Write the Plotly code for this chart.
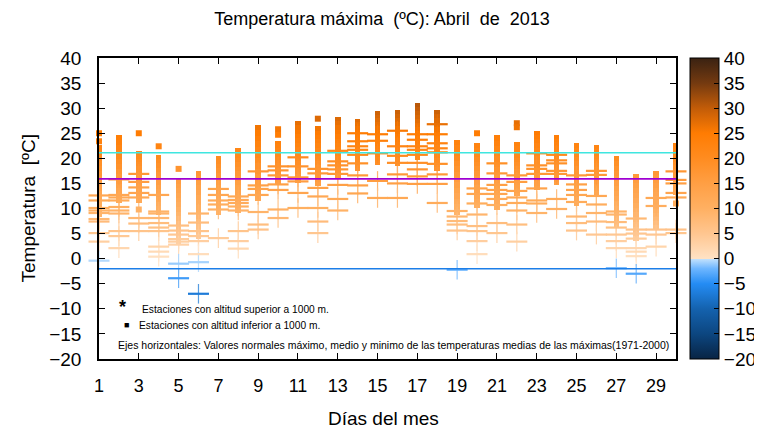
import numpy as np
import plotly.graph_objects as go

# ---------------- data ----------------
days = list(range(1, 31))

# dense column of stations below 1000 m (top / bottom of the stacked squares)
col_top = [22.6, 24.6, 21.4, 20.7, 15.9, 17.5, 20.5, 22.0, 26.7, 23.4,
           27.5, 26.4, 28.3, 27.9, 29.5, 29.7, 31.0, 29.7, 23.7, 23.0,
           24.6, 23.2, 25.5, 24.6, 23.0, 22.6, 20.5, 16.9, 17.5, 23.0]
col_bot = [8.4, 11.1, 11.1, 8.8, 2.8, 4.0, 8.8, 9.1, 11.4, 14.7,
           15.1, 14.4, 16.1, 17.4, 18.7, 18.4, 19.7, 17.4, 8.8, 10.1,
           9.8, 12.4, 13.7, 14.6, 10.4, 12.7, 6.4, 3.5, 5.8, 12.7]

# isolated stations below 1000 m
iso_day = [1, 1, 3, 3, 4, 5, 10, 10, 12, 20, 22, 22, 30]
iso_val = [25.0, 23.4, 25.0, 9.8, 22.4, 17.9, 25.8, 24.7, 27.9, 25.0, 27.0, 26.2, 11.0]

# stations above 1000 m, per day
stars_d01 = [12.6, 11.6, 10.1, 9.6, 9.1, 7.9, 7.4, 5.1, 3.4, -0.4]
stars_d02 = [15.8, 12.7, 12.2, 11.6, 10.3, 9.6, 9.0, 5.5, 4.5, 2.1]
stars_d03 = [16.9, 15.3, 14.2, 13.1, 12.2, 8.1, 7.0, 5.5]
stars_d04 = [12.7, 9.4, 9.0, 8.1, 7.1, 6.2, 5.5, 2.4, 1.4, 0.4]
stars_d05 = [6.6, 5.6, 4.8, 3.9, 3.4, 2.8, -1.0, -3.9]
stars_d06 = [9.0, 7.2, 5.5, 4.5, 3.5, 0.9, -0.7, -7.0]
stars_d07 = [13.9, 12.7, 11.6, 10.8, 9.8, 4.1]
stars_d08 = [12.4, 11.7, 11.1, 10.4, 9.6, 5.5, 3.5, 2.0]
stars_d09 = [17.4, 14.6, 13.9, 12.7, 9.3, 6.8, 5.8]
stars_d10 = [18.4, 17.6, 16.6, 14.8, 13.7, 9.8, 8.1]
stars_d11 = [20.2, 18.4, 16.2, 15.4, 13.1, 10.1]
stars_d12 = [17.9, 17.0, 14.1, 12.4, 10.1, 7.4, 5.1]
stars_d13 = [21.5, 19.4, 18.6, 17.8, 16.9, 14.7, 11.9, 9.6]
stars_d14 = [25.0, 23.4, 22.4, 21.7, 20.7, 19.0, 16.6, 14.6, 13.0]
stars_d15 = [24.8, 23.5, 21.0, 15.5, 12.1]
stars_d16 = [25.5, 22.4, 20.5, 19.1, 16.8, 15.0, 12.1]
stars_d17 = [24.8, 23.7, 22.4, 21.7, 20.7, 19.1, 17.8, 16.4, 14.9]
stars_d18 = [26.8, 24.8, 23.0, 22.0, 21.2, 18.9, 16.8, 14.9, 11.1]
stars_d19 = [9.5, 8.4, 7.5, 6.8, 5.6, -2.2]
stars_d20 = [14.0, 12.9, 11.0, 8.8, 6.5, 5.5, 3.5, 0.9]
stars_d21 = [19.0, 17.0, 14.7, 13.7, 12.9, 11.9, 10.7, 7.1, 5.1]
stars_d22 = [16.6, 15.3, 13.5, 12.2, 11.1, 9.6, 6.8, 3.4]
stars_d23 = [21.0, 18.6, 17.9, 16.9, 14.0, 11.6, 11.0, 9.1]
stars_d24 = [20.7, 19.6, 19.0, 17.5, 16.9, 11.9, 9.9]
stars_d25 = [16.6, 14.8, 13.7, 12.7, 11.3, 8.4, 7.1, 5.6]
stars_d26 = [17.5, 16.7, 12.5, 10.8, 9.1, 7.4, 4.8]
stars_d27 = [9.4, 8.8, 7.3, 6.2, 4.8, 3.5, 2.1, -1.9]
stars_d28 = [8.0, 5.8, 5.0, 4.0, 2.1, 1.4, 0.5, -3.0]
stars_d29 = [12.1, 10.5, 5.8, 4.8, 2.4]
stars_d30 = [17.4, 15.7, 15.0, 13.1, 12.2, 5.8, 5.1]
stars = [stars_d01, stars_d02, stars_d03, stars_d04, stars_d05, stars_d06,
         stars_d07, stars_d08, stars_d09, stars_d10, stars_d11, stars_d12,
         stars_d13, stars_d14, stars_d15, stars_d16, stars_d17, stars_d18,
         stars_d19, stars_d20, stars_d21, stars_d22, stars_d23, stars_d24,
         stars_d25, stars_d26, stars_d27, stars_d28, stars_d29, stars_d30]

# normal values (1971-2000) of mean maximum temperature
normal_max = 21.1
normal_mean = 15.9
normal_min = -2.0

x_ticks = list(range(1, 30, 2))
y_ticks = list(range(-20, 41, 5))

# ---------------- style ----------------
FONT = "Arial, Liberation Sans, sans-serif"
vmin, vmax = -20, 40
def nz(v):
    return (v - vmin) / (vmax - vmin)

colorscale = [
    [nz(-20), "#082444"], [nz(-15), "#0c4680"], [nz(-10), "#1462ae"],
    [nz(-5), "#248cf4"], [nz(-2), "#6db6ff"], [nz(-0.01), "#c4e2fc"],
    [nz(0), "#ffe2c4"], [nz(5), "#ffc690"], [nz(10), "#ffb062"],
    [nz(15), "#ff9f44"], [nz(20), "#ff8c20"], [nz(25), "#ff7c02"],
    [nz(30), "#c25c08"], [nz(35), "#743a10"], [nz(40), "#3a2212"],
]

fig = go.Figure()

# dense columns, shaded in slices so the colour follows the scale
NSEG = 14
bx, bb, bh, bc = [], [], [], []
for d, lo, hi in zip(days, col_bot, col_top):
    edges = np.linspace(lo, hi, NSEG + 1)
    for a, b in zip(edges[:-1], edges[1:]):
        bx.append(d)
        bb.append(a)
        bh.append(b - a + 0.02)
        bc.append(0.5 * (a + b))
fig.add_trace(go.Bar(x=bx, base=bb, y=bh, width=0.28,
                     marker=dict(color=bc, coloraxis="coloraxis", line=dict(width=0)),
                     cliponaxis=False, showlegend=False, hoverinfo="skip"))

# stations above 1000 m
sx, sy = [], []
for d, vals in zip(days, stars):
    for v in vals:
        sx.append(d)
        sy.append(v)
fig.add_trace(go.Scatter(x=sx, y=sy, mode="markers", cliponaxis=False,
                         marker=dict(symbol="line-ns-open", size=14, color=sy,
                                     coloraxis="coloraxis", line=dict(width=1.2)),
                         opacity=0.75, showlegend=False))
fig.add_trace(go.Scatter(x=sx, y=sy, mode="markers", cliponaxis=False,
                         marker=dict(symbol="line-ew-open", size=15, color=sy,
                                     coloraxis="coloraxis", line=dict(width=2.2)),
                         showlegend=False))

# isolated squares
fig.add_trace(go.Scatter(x=iso_day, y=iso_val, mode="markers", cliponaxis=False,
                         marker=dict(symbol="square", size=6, color=iso_val,
                                     coloraxis="coloraxis"),
                         showlegend=False))

# normal lines
for val, col in [(normal_max, "#3fe6e0"), (normal_mean, "#a000d2"), (normal_min, "#1c7ee8")]:
    fig.add_trace(go.Scatter(x=[days[0], days[-1]], y=[val, val], mode="lines",
                             line=dict(color=col, width=1.6), showlegend=False,
                             hoverinfo="skip"))

# ---------------- layout ----------------
# the page body adds an 8 px offset; geometry below is in page pixels
OFF = 8
W, H = 762 - OFF, 432 - OFF
PL, PR, PT, PB = 99, 676, 58, 359           # plot area in page pixels
L, T = PL - OFF, PT - OFF
R, B = W - (PR - OFF), H - (PB - OFF)
pw, ph = PR - PL, PB - PT

def px(xp):
    return (xp - PL) / pw

def py(yp):
    return (PB - yp) / ph

annotations = [
    dict(text="Temperatura  [ºC]", textangle=-90, x=px(28), y=0.5, xref="paper", yref="paper",
         xanchor="center", yanchor="middle", showarrow=False, font=dict(size=19, family=FONT)),
    dict(text="Días del mes", x=px(383), y=py(418), xref="paper", yref="paper",
         xanchor="center", yanchor="middle", showarrow=False, font=dict(size=19, family=FONT)),
    dict(text="<b>*</b>", x=px(122), y=py(307), xref="paper", yref="paper",
         xanchor="center", yanchor="middle", showarrow=False, font=dict(size=18, family=FONT)),
    dict(text="Estaciones con altitud superior a 1000 m.", x=px(140), y=py(309),
         xref="paper", yref="paper", xanchor="left", yanchor="middle", showarrow=False,
         font=dict(size=10.2, family=FONT)),
    dict(text="■", x=px(126), y=py(325), xref="paper", yref="paper",
         xanchor="center", yanchor="middle", showarrow=False, font=dict(size=9, family=FONT)),
    dict(text="Estaciones con altitud inferior a 1000 m.", x=px(137), y=py(325),
         xref="paper", yref="paper", xanchor="left", yanchor="middle", showarrow=False,
         font=dict(size=10.2, family=FONT)),
    dict(text="Ejes horizontales: Valores normales máximo, medio y minimo de las temperaturas medias de las máximas(1971-2000)",
         x=px(116), y=py(345), xref="paper", yref="paper", xanchor="left", yanchor="middle",
         showarrow=False, font=dict(size=10.5, family=FONT)),
]

fig.update_layout(
    width=W, height=H,
    margin=dict(l=L, r=R, t=T, b=B, autoexpand=False),
    paper_bgcolor="white", plot_bgcolor="white",
    barmode="overlay", bargap=0,
    font=dict(family=FONT, color="black"),
    title=dict(text="Temperatura máxima  (ºC): Abril  de  2013", x=(382 - OFF) / W, xref="container",
               xanchor="center", y=1 - (19 - OFF) / H, yref="container", yanchor="middle",
               font=dict(size=18, family=FONT, color="black")),
    xaxis=dict(range=[1, 30], tickvals=x_ticks, ticks="inside", ticklen=6, tickwidth=1.2,
               tickcolor="black", showline=True, linecolor="black", linewidth=1.5,
               mirror="ticks", showgrid=False, zeroline=False,
               tickfont=dict(size=18, family=FONT), ticklabelstandoff=10),
    yaxis=dict(range=[-20, 40], tickvals=y_ticks, ticks="inside", ticklen=6, tickwidth=1.2,
               tickcolor="black", showline=True, linecolor="black", linewidth=1.5,
               mirror="ticks", showgrid=False, zeroline=False,
               tickfont=dict(size=19, family=FONT), ticklabelstandoff=12),
    coloraxis=dict(cmin=vmin, cmax=vmax, colorscale=colorscale,
                   colorbar=dict(x=px(690), xanchor="left", y=0.5, yanchor="middle",
                                 len=1, lenmode="fraction", thickness=29, thicknessmode="pixels",
                                 outlinewidth=1, outlinecolor="black",
                                 tickvals=y_ticks, ticks="inside", ticklen=5, tickcolor="black",
                                 tickfont=dict(size=19, family=FONT), xpad=0, ypad=0)),
    annotations=annotations,
    showlegend=False,
)

fig.write_html("out.html")
